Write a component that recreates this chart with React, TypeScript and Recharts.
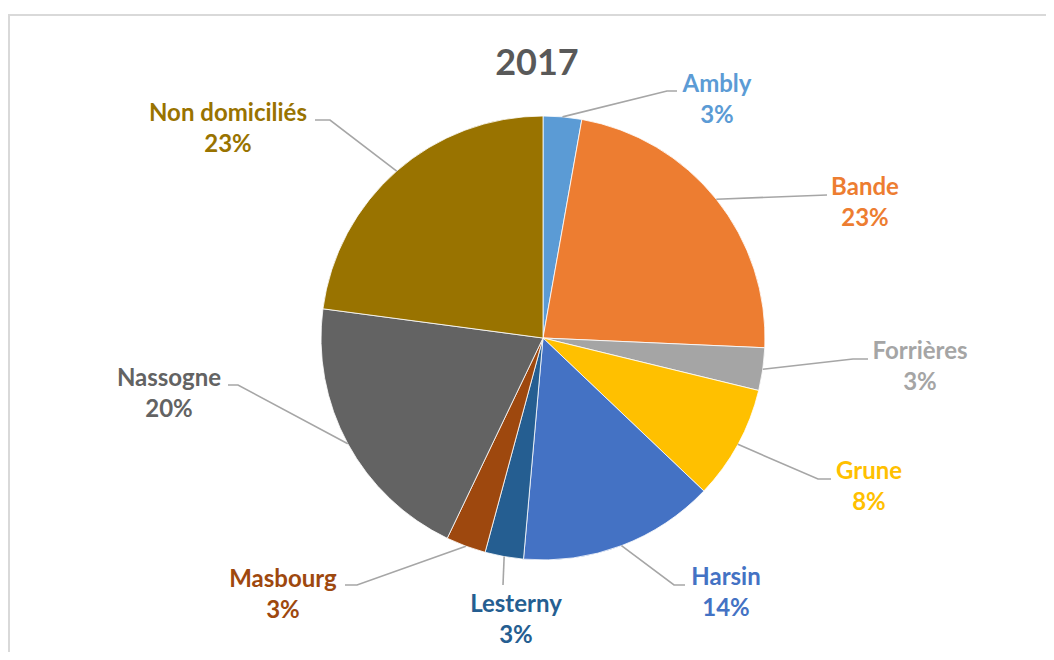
import React from 'react'
import { PieChart, Pie, Cell } from 'recharts'

// 2017 breakdown (shares, in %)
const places = [
  'Ambly',
  'Bande',
  'Forrières',
  'Grune',
  'Harsin',
  'Lesterny',
  'Masbourg',
  'Nassogne',
  'Non domiciliés'
]
const shares = [2.8, 22.9, 3.1, 8.3, 14.3, 2.8, 2.9, 20.0, 22.9]

const colors = [
  '#5B9BD5', '#ED7D31', '#A5A5A5', '#FFC000', '#4472C4',
  '#255E91', '#9E480E', '#636363', '#997300'
]

// where each label sits, relative to the pie centre (t = text, b = elbow, e = line end at text)
const labelLayout: Record<string, { tx: number; ty: number; bx: number; by: number; ex: number; ey: number }> = {
  'Ambly': { tx: 174, ty: -246, bx: 124, by: -247, ex: 134, ey: -247 },
  'Bande': { tx: 322, ty: -143, bx: 284, by: -143, ex: 284, ey: -143 },
  'Forrières': { tx: 377, ty: 21, bx: 310, by: 21, ex: 325, ey: 21 },
  'Grune': { tx: 326, ty: 141, bx: 275, by: 141, ex: 288, ey: 141 },
  'Harsin': { tx: 183, ty: 247, bx: 131, by: 247, ex: 142, ey: 247 },
  'Lesterny': { tx: -27, ty: 274, bx: -40, by: 247, ex: -40, ey: 247 },
  'Masbourg': { tx: -260, ty: 249, bx: -186, by: 247, ex: -198, ey: 247 },
  'Nassogne': { tx: -374, ty: 48, bx: -305, by: 47, ex: -315, ey: 47 },
  'Non domiciliés': { tx: -315, ty: -217, bx: -213, by: -218, ex: -228, ey: -218 }
}

const chartData = places.map((name, i) => ({ name, value: shares[i] }))

const RAD = Math.PI / 180

const renderLabel = (props: any) => {
  const { cx, cy, midAngle, outerRadius, percent, name, index } = props
  const layout = labelLayout[name]
  if (!layout) return null
  const sx = cx + outerRadius * Math.cos(-midAngle * RAD)
  const sy = cy + outerRadius * Math.sin(-midAngle * RAD)
  const color = colors[index % colors.length]
  return (
    <g>
      <polyline
        points={`${sx},${sy} ${cx + layout.bx},${cy + layout.by} ${cx + layout.ex},${cy + layout.ey}`}
        fill="none"
        stroke="#A6A6A6"
        strokeWidth={1.6}
      />
      <text
        x={cx + layout.tx}
        y={cy + layout.ty}
        textAnchor="middle"
        fill={color}
        fontFamily="Lato, 'Open Sans', sans-serif"
        fontWeight={700}
        fontSize={24}
      >
        {name}
      </text>
      <text
        x={cx + layout.tx}
        y={cy + layout.ty + 31}
        textAnchor="middle"
        fill={color}
        fontFamily="Lato, 'Open Sans', sans-serif"
        fontWeight={700}
        fontSize={24}
      >
        {`${Math.round(percent * 100)}%`}
      </text>
    </g>
  )
}

const App: React.FC = () => {
  return (
    <div style={{ position: 'relative', width: 1046, height: 644, overflow: 'hidden', fontFamily: 'Lato, sans-serif' }}>
      {/* chart frame, only top and left edges are in view */}
      <div
        style={{
          position: 'absolute',
          left: 0,
          top: 6,
          width: 1100,
          height: 700,
          borderTop: '2px solid #D9D9D9',
          borderLeft: '2px solid #D9D9D9',
          boxSizing: 'border-box'
        }}
      />
      <div
        style={{
          position: 'absolute',
          left: 0,
          width: 1058,
          top: 35,
          textAlign: 'center',
          fontSize: 36,
          lineHeight: '36px',
          fontWeight: 700,
          color: '#595959'
        }}
      >
        2017
      </div>
      <div style={{ position: 'absolute', left: 0, top: 0 }}>
        <PieChart width={1046} height={644} margin={{ top: 0, right: 0, bottom: 0, left: 0 }}>
          <Pie
            data={chartData}
            dataKey="value"
            nameKey="name"
            cx={535}
            cy={330}
            outerRadius={222}
            startAngle={90}
            endAngle={-270}
            stroke="#FFFFFF"
            strokeWidth={0.8}
            label={renderLabel}
            labelLine={false}
            isAnimationActive={false}
          >
            {chartData.map((entry, index) => (
              <Cell key={entry.name} fill={colors[index % colors.length]} />
            ))}
          </Pie>
        </PieChart>
      </div>
    </div>
  )
}

export default App
